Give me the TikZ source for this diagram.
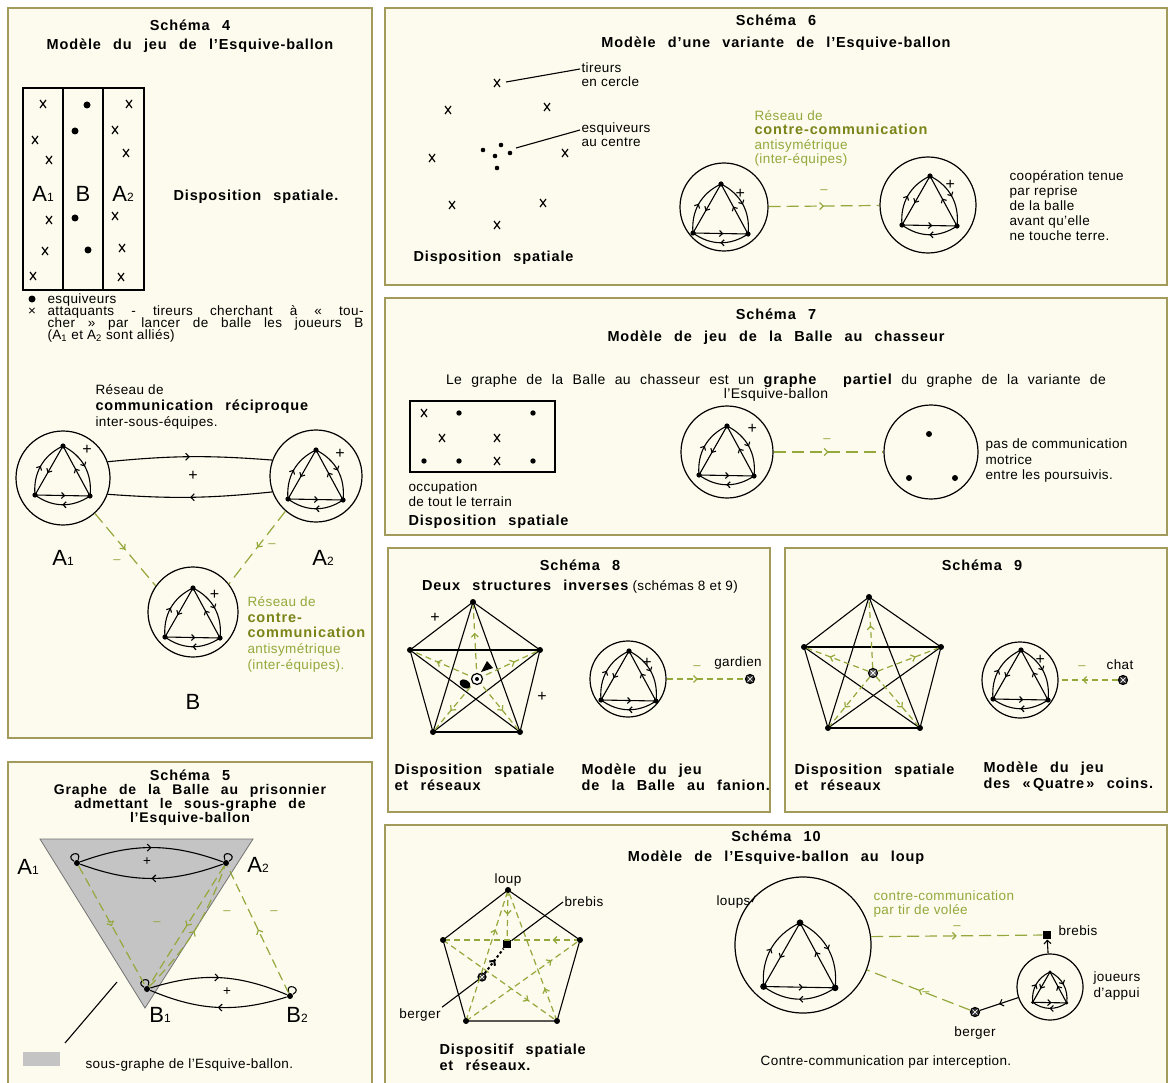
\documentclass[tikz,border=0pt]{standalone}
\usepackage{fontspec}
\setmainfont{Liberation Sans}[LetterSpace=3]
\newfontfamily\titre{Liberation Sans}[LetterSpace=6,WordSpace=2.5]
\usetikzlibrary{arrows.meta,decorations.markings,positioning}
\definecolor{cadre}{RGB}{163,155,92}
\definecolor{fond}{RGB}{253,251,237}
\definecolor{grn}{RGB}{148,168,60}
\definecolor{olv}{RGB}{122,132,24}
\definecolor{gristri}{RGB}{196,196,196}
\newcommand\entete{\titre\bfseries\fontsize{14.5}{16}\selectfont}
\newcommand\ind[1]{{\fontsize{12}{12}\selectfont #1}}
\tikzset{
  panel/.style={draw=cadre,fill=fond,line width=1.8pt},
  heading/.style={font=\entete},
  grand/.style={font=\fontsize{22}{22}\selectfont},
  moins/.style={text=grn,inner sep=0,font=\fontsize{13}{13}\selectfont},
  plus/.style={font=\fontsize{16}{16}\selectfont},
  cerc/.style={circle,draw,line width=1.2pt,inner sep=0},
  sommet/.style={circle,fill,inner sep=0,minimum size=6pt},
  garde/.style={circle,draw,line width=1.2pt,fill=black!80,inner sep=0,minimum size=9pt,
    path picture={\draw[white,line width=.7pt] (path picture bounding box.south west) -- (path picture bounding box.north east)
      (path picture bounding box.north west) -- (path picture bounding box.south east);}},
  carre/.style={fill,inner sep=0,minimum size=8pt},
  gdash/.style={draw=grn,line width=1.2pt,dash pattern=on 12pt off 6pt},
  gcourt/.style={gdash,dash pattern=on 6pt off 4pt},
  midarr/.style={postaction={decorate},decoration={markings,mark=at position #1 with {\arrow{>}}}},
  midarr/.default=.5,
  tir/.pic={\draw[line width=1.2pt] (-3,-4) -- (3,4) (3,-4) -- (-3,4);},
  team/.pic={
    \tikzset{>={Straight Barb[length=3pt,width=6pt]}}
    \coordinate (-t) at (0,-34); \coordinate (-l) at (-28,15); \coordinate (-r) at (27,16);
    \draw[midarr=.55] (-t) -- (-l);
    \draw[midarr=.55] (-l) -- (-r);
    \draw[midarr=.55] (-r) -- (-t);
    \draw[midarr] (-l) to[bend left=35] (-t);
    \draw[midarr] (-t) to[bend left=35] (-r);
    \draw[midarr] (-r) to[bend left=35] (-l);
    \fill (-t) circle (2.6) (-l) circle (2.6) (-r) circle (2.6);
  },
  teamplus/.pic={\pic{team}; \node[plus] at (24,-30) {+};}
}
\begin{document}
\begin{tikzpicture}[x=1pt,y=-1pt,>={Straight Barb[length=3.5pt,width=7pt]},line width=1.1pt,
  font=\fontsize{13.5}{15.5}\selectfont,every node/.append style={inner sep=1pt}]
\fill[white] (0,0) rectangle (1172,1083);
\useasboundingbox (0,0) rectangle (1172,1083);

% Schéma 4
\draw[panel] (8,8) rectangle (372,738);
\node[heading] (t4) at (190,25) {Schéma 4};
\node[heading] (s4) at (190,46) {Modèle du jeu de l’Esquive-ballon};
\draw (23,88) rectangle (144,290) (63,88) -- (63,290) (103,88) -- (103,290);
\node[grand] (fa1) at (43,194) {A\ind{1}};
\node[grand] (fb) at (83,194) {B};
\node[grand] (fa2) at (123,194) {A\ind{2}};
\foreach \p in {(43,104),(35,140),(49,160),(49,220),(45,251),(33,276),(129,104),(115,130),(126,153),(115,216),(122,248),(121,277)}
  \pic at \p {tir};
\foreach \p in {(87,105),(75,131),(75,218),(88,250)} \fill \p circle (3.5);
\node[heading,anchor=west] (d4) at (172,197) {Disposition spatiale.};
\begin{scope}[every node/.append style={font=\fontsize{13.5}{14}\selectfont}]
\fill (32,299) circle (3.5);
\node[anchor=base west] (lg1) at (46,303) {esquiveurs};
\node[anchor=base] (lgx) at (32,315) {×};
\node[anchor=base west] (lg2) at (46,315) {\makebox[316pt][s]{attaquants - tireurs cherchant à «~tou-}};
\node[anchor=base west] (lg3) at (46,327) {\makebox[316pt][s]{cher~» par lancer de balle les joueurs B}};
\node[anchor=base west] (lg4) at (46,339) {(A\textsubscript{1} et A\textsubscript{2} sont alliés)};
\end{scope}
\node[anchor=west] (r4a) at (94,390) {Réseau de};
\node[heading,anchor=west] (r4b) at (94,407) {communication réciproque};
\node[anchor=west] (r4c) at (94,423) {inter-sous-équipes.};
\node[cerc,minimum size=94pt] (A1) at (63,478) {};
\node[cerc,minimum size=92pt] (A2) at (316,476) {};
\node[cerc,minimum size=90pt] (B) at (193,612) {};
\pic (ta1) at (63,480) {teamplus};
\pic (ta2) at (316,484) {teamplus};
\pic[scale=.9] (tb) at (193,622) {teamplus};
\draw[midarr] (A1.20) to[bend left=5] (A2.160);
\draw[midarr] (A2.200) to[bend left=5] (A1.-20);
\node[plus] (p4) at (193,476) {+};
\draw[gdash,midarr] (A1.-48) -- (B.145);
\draw[gdash,midarr] (A2.229) -- (B.38);
\node[moins] at (117,562) {–};
\node[moins] at (272,546) {–};
\node[anchor=north west,align=left,text=grn,font=\fontsize{13.5}{15.7}\selectfont] (v4) at (246,595)
  {Réseau de\\{\color{olv}\entete contre-}\\{\color{olv}\entete communication}\\antisymétrique\\(inter-équipes).};
\node[grand] (la1) at (63,558) {A\ind{1}};
\node[grand] (la2) at (323,558) {A\ind{2}};
\node[grand] (lb) at (193,702) {B};

% Schéma 5
\draw[panel] (8,762) rectangle (372,1100);
\node[heading] (t5) at (190,775) {Schéma 5};
\node[align=center,font=\entete\fontsize{14}{13}\selectfont] (s5) at (190,805)
  {Graphe de la Balle au prisonnier\\admettant le sous-graphe de\\l’Esquive-ballon};
\fill[gristri,draw=black!55,line width=.8pt] (40,839) -- (253,839) -- (145,1008) -- cycle;
\node[sommet] (pA1) at (77,863) {};
\node[sommet] (pA2) at (226,863) {};
\node[sommet] (pB1) at (147,989) {};
\node[sommet] (pB2) at (290,996) {};
\draw (pA1) to[out=150,in=70,min distance=12pt] (pA1);
\draw (pB1) to[out=150,in=70,min distance=12pt] (pB1);
\draw (pA2) to[out=110,in=30,min distance=12pt] (pA2);
\draw (pB2) to[out=110,in=30,min distance=12pt] (pB2);
\draw[midarr] (pA1) to[bend left=20] (pA2);
\draw[midarr] (pA2) to[bend left=20] (pA1);
\draw[midarr] (pB1) to[bend left=20] (pB2);
\draw[midarr] (pB2) to[bend left=20] (pB1);
\node (p5a) at (147,862) {+};
\node (p5b) at (227,992) {+};
\draw[gdash,dash pattern=on 9pt off 5pt,midarr] (pA1) -- (pB1);
\draw[gdash,dash pattern=on 9pt off 5pt,midarr] (pA2) -- (pB1);
\draw[gdash,dash pattern=on 9pt off 5pt,midarr] (pB1) to[bend right=12] (pA2);
\draw[gdash,dash pattern=on 9pt off 5pt,midarr] (pB2) -- (pA2);
\foreach \p in {(111,924),(157,924),(227,913),(274,913)} \node[moins] at \p {–};
\node[grand] (l5a) at (28,867) {A\ind{1}};
\node[grand] (l5b) at (258,865) {A\ind{2}};
\node[grand] (l5c) at (160,1015) {B\ind{1}};
\node[grand] (l5d) at (297,1015) {B\ind{2}};
\fill[gristri] (23,1052) rectangle (60,1066);
\coordinate (lgs) at (65,1043);
\coordinate (tri) at (117,982);
\draw (lgs) -- (tri);
\node[anchor=west] (lg5) at (84,1065) {sous-graphe de l’Esquive-ballon.};

% Schéma 6
\draw[panel] (385,8) rectangle (1167,285);
\node[heading] (t6) at (776,20) {Schéma 6};
\node[heading] (s6) at (776,44) {Modèle d’une variante de l’Esquive-ballon};
\foreach \p in {(497,83),(448,110),(547,107),(432,158),(565,153),(452,205),(543,203),(497,225)} \pic at \p {tir};
\foreach \p in {(483,150),(501,145),(495,156),(510,153),(497,168)} \fill \p circle (2.3);
\node[anchor=west,align=left,font=\fontsize{13.5}{14}\selectfont] (ltir) at (580,75) {tireurs\\en cercle};
\node[anchor=west,align=left,font=\fontsize{13.5}{14}\selectfont] (lesq) at (580,135) {esquiveurs\\au centre};
\coordinate (x6) at (506,82);
\coordinate (o6) at (516,148);
\draw (x6) -- ([yshift=6pt]ltir.west);
\draw (o6) -- ([yshift=5pt]lesq.west);
\node[heading,anchor=west] (d6) at (412,258) {Disposition spatiale};
\node[cerc,minimum size=88pt] (c6a) at (724,207) {};
\node[cerc,minimum size=96pt] (c6b) at (928,205) {};
\pic[scale=.8] (t6a) at (721,218) {teamplus};
\pic[scale=.85] (t6b) at (930,210) {teamplus};
\draw[gdash,midarr] (c6a) -- (c6b);
\node[moins] at (824,192) {–};
\node[anchor=north west,align=left,text=grn,font=\fontsize{13.5}{14.5}\selectfont] (v6) at (753,109)
  {Réseau de\\{\color{olv}\entete contre-communication}\\antisymétrique\\(inter-équipes)};
\node[anchor=north west,align=left,font=\fontsize{13.5}{15}\selectfont] (k6) at (1008,169)
  {coopération tenue\\par reprise\\de la balle\\avant qu’elle\\ne touche terre.};

% Schéma 7
\draw[panel] (385,298) rectangle (1167,535);
\node[heading] (t7) at (776,314) {Schéma 7};
\node[heading] (s7) at (776,338) {Modèle de jeu de la Balle au chasseur};
\node[font=\fontsize{14}{15}\selectfont] (g7) at (776,381) {\makebox[660pt][s]{Le graphe de la Balle au chasseur est un {\entete graphe partiel} du graphe de la variante de}};
\node[font=\fontsize{14}{15}\selectfont] (g7b) at (776,395) {l’Esquive-ballon};
\draw (410,401) rectangle (555,472);
\foreach \p in {(424,413),(442,438),(497,438),(497,461)} \pic at \p {tir};
\foreach \p in {(459,413),(533,413),(424,461),(459,461),(533,461)} \fill \p circle (2.7);
\node[anchor=west,align=left] (oc7) at (407,494) {occupation\\de tout le terrain};
\node[heading,anchor=west] (d7) at (407,522) {Disposition spatiale};
\node[cerc,minimum size=92pt] (c7a) at (727,452) {};
\node[cerc,minimum size=94pt] (c7b) at (931,452) {};
\pic[scale=1.05] (t7a) at (727,460) {teamplus};
\node[sommet] (q1) at (929,434) {};
\node[sommet] (q2) at (909,478) {};
\node[sommet] (q3) at (955,478) {};
\draw[gdash,midarr] (c7a) -- (c7b);
\node[moins] at (827,441) {–};
\node[anchor=west,align=left] (k7) at (984,461) {pas de communication\\motrice\\entre les poursuivis.};

% Schéma 8
\draw[panel] (388,548) rectangle (770,812);
\node[heading] (t8) at (580,565) {Schéma 8};
\node (s8) at (580,587) {{\entete Deux structures inverses} (schémas 8 et 9)};
\path (473,602) coordinate (p8a) (540,650) coordinate (p8b) (520,732) coordinate (p8c)
  (433,732) coordinate (p8d) (410,650) coordinate (p8e) (477,679) coordinate (o8);
\foreach \i/\j in {a/b,a/c,a/d,a/e,b/c,b/d,b/e,c/d,c/e,d/e} \draw (p8\i) -- (p8\j);
\foreach \i in {a,...,e} \draw[gcourt,midarr=.6] (o8) -- (p8\i);
\foreach \i in {a,...,e} \fill (p8\i) circle (3);
\node[plus] at (435,618) {+};
\node[plus] at (542,697) {+};
\fill[rotate around={-30:(465,684)}] (465,684) ellipse (6 and 4);
\fill (481,672) -- (487,661) -- (493,668) -- cycle;
\draw[fill=white,line width=1.2pt] (o8) circle (5.5);
\fill (o8) circle (2);
\node[cerc,minimum size=76pt] (c8) at (628,679) {};
\pic[scale=.75] (t8a) at (629,685) {teamplus};
\node[garde] (gard) at (750,679) {};
\draw[gcourt,midarr=.4] (c8) -- (gard);
\node[moins] at (697,668) {–};
\node[anchor=south] (lgard) at (738,671) {gardien};
\node[heading,anchor=west,align=left] (d8) at (393,777) {Disposition spatiale\\et réseaux};
\node[heading,anchor=west,align=left] (m8) at (580,777) {Modèle du jeu\\de la Balle au fanion.};

% Schéma 9
\draw[panel] (785,548) rectangle (1167,812);
\node[heading] (t9) at (982,565) {Schéma 9};
\path (869,597) coordinate (p9a) (941,647) coordinate (p9b) (920,728) coordinate (p9c)
  (828,728) coordinate (p9d) (804,647) coordinate (p9e);
\foreach \i/\j in {a/b,a/c,a/d,a/e,b/c,b/d,b/e,c/d,c/e,d/e} \draw (p9\i) -- (p9\j);
\node[garde,fill=black!60] (o9) at (873,673) {};
\foreach \i in {a,...,e} \draw[gcourt,midarr=.6] (o9) -- (p9\i);
\foreach \i in {a,...,e} \fill (p9\i) circle (3);
\node[cerc,minimum size=76pt] (c9) at (1020,680) {};
\pic[scale=.8] (t9a) at (1021,684) {teamplus};
\node[garde] (chat) at (1123,680) {};
\draw[gcourt,midarr=.6] (chat) -- (c9);
\node[moins] at (1082,668) {–};
\node[anchor=south] (lchat) at (1120,671) {chat};
\node[heading,anchor=west,align=left] (d9) at (793,777) {Disposition spatiale\\et réseaux};
\node[heading,anchor=west,align=left] (m9) at (982,777) {Modèle du jeu\\des «\,Quatre\,» coins.};

% Schéma 10
\draw[panel] (385,825) rectangle (1167,1100);
\node[heading] (t10) at (776,836) {Schéma 10};
\node[heading] (s10) at (776,858) {Modèle de l’Esquive-ballon au loup};
\path (508,890) coordinate (p10a) (580,940) coordinate (p10b) (557,1021) coordinate (p10c)
  (466,1021) coordinate (p10d) (443,940) coordinate (p10e);
\draw (p10a) -- (p10b) -- (p10c) -- (p10d) -- (p10e) -- cycle;
\node[carre] (bre1) at (507,944) {};
\node[garde,minimum size=8pt] (ber1) at (482,977) {};
\draw[gcourt,midarr=.2] (p10b) -- (p10e);
\draw[gcourt,midarr=.7] (p10d) -- (p10a);
\draw[gcourt,midarr=.75] (p10d) -- (p10b);
\draw[gcourt,midarr=.75] (p10e) -- (p10c);
\draw[gcourt,midarr=.25] (p10c) -- (p10a);
\draw[gcourt,midarr] (p10a) -- (bre1);
\draw[line width=2pt,dash pattern=on 2.5pt off 2.5pt,midarr=.55] (ber1) -- (bre1);
\foreach \i in {a,...,e} \fill (p10\i) circle (3);
\node[above=2pt of p10a] (lloup) {loup};
\node[anchor=west] (lbre) at (563,902) {brebis};
\node (lber) at (420,1015) {berger};
\draw (lbre.west) -- (bre1);
\draw (lber.north east) -- (ber1);
\node[heading,anchor=west,align=left] (d10) at (438,1057) {Dispositif spatiale\\et réseaux.};
\node[cerc,minimum size=136pt] (Bc) at (803,945) {};
\pic[scale=1.3] (t10a) at (800,967) {team};
\node[anchor=east] (lloups) at (752,902) {loups};
\draw (lloups.east) -- (Bc.134);
\node[anchor=west,align=left,text=grn,font=\fontsize{13.5}{14.5}\selectfont] (v10) at (872,904)
  {contre-communication\\par tir de volée};
\node[carre] (bre2) at (1047,935) {};
\node[anchor=west] (lbre2) at (1057,931) {brebis};
\draw[gdash,midarr] (Bc.7) -- (bre2);
\node[moins] at (957,928) {–};
\node[cerc,minimum size=66pt] (Jc) at (1050,987) {};
\pic[scale=.62] (t10b) at (1050,993) {team};
\node[anchor=west,align=left] (ljou) at (1092,986) {joueurs\\d’appui};
\draw[->] (Jc) -- (bre2);
\node[garde] (ber2) at (975,1012) {};
\draw[midarr] (Jc) -- (ber2);
\node (lber2) at (975,1033) {berger};
\draw[gdash,midarr] (ber2) -- (Bc);
\node[moins] at (926,994) {–};
\node (k10) at (886,1062) {Contre-communication par interception.};
\end{tikzpicture}
\end{document}
